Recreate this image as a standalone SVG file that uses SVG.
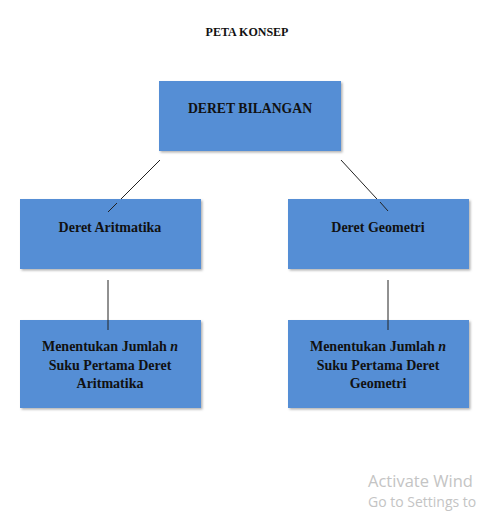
<svg xmlns="http://www.w3.org/2000/svg" width="485" height="513" viewBox="0 0 485 513">
<defs>
<filter id="sh" x="-5%" y="-5%" width="115%" height="115%">
<feDropShadow dx="1.5" dy="1.5" stdDeviation="0.8" flood-color="#000" flood-opacity="0.3"/>
</filter>
</defs>
<style>
.box{fill:#558ed5;filter:url(#sh)}
.t{font-family:"Liberation Serif","Times New Roman",serif;font-weight:bold;fill:#111;text-anchor:middle}
.c{stroke:#222;stroke-width:1;fill:none}
.w{font-family:"Open Sans","Noto Sans",sans-serif;fill:#c4c4c4}
</style>
<rect width="485" height="513" fill="#fff"/>
<text class="t" x="247" y="36" font-size="12">PETA KONSEP</text>
<g id="connectors">
<line class="c" x1="160" y1="160" x2="108" y2="212"/>
<line class="c" x1="341" y1="160" x2="388" y2="211"/>
<line class="c" x1="108" y1="280" x2="108" y2="330"/>
<line class="c" x1="388" y1="280" x2="388" y2="330"/>
</g>
<g id="deret-bilangan">
<rect class="box" x="159" y="81" width="182" height="70"/>
<text class="t" x="250" y="113" font-size="13.7">DERET BILANGAN</text>
</g>
<g id="deret-aritmatika">
<rect class="box" x="20" y="199" width="181" height="70"/>
<line class="c" x1="117" y1="203" x2="108" y2="212"/>
<text class="t" x="110" y="232" font-size="14">Deret Aritmatika</text>
</g>
<g id="deret-geometri">
<rect class="box" x="288" y="199" width="181" height="70"/>
<line class="c" x1="380" y1="202" x2="388" y2="211"/>
<text class="t" x="378" y="232" font-size="14">Deret Geometri</text>
</g>
<g id="jumlah-aritmatika">
<rect class="box" x="20" y="320" width="181" height="88"/>
<line class="c" x1="108" y1="320" x2="108" y2="330"/>
<text class="t" x="110" y="351" font-size="14">Menentukan Jumlah <tspan font-style="italic">n</tspan></text>
<text class="t" x="110" y="370" font-size="14">Suku Pertama Deret</text>
<text class="t" x="110" y="388" font-size="14">Aritmatika</text>
</g>
<g id="jumlah-geometri">
<rect class="box" x="288" y="320" width="181" height="88"/>
<line class="c" x1="388" y1="320" x2="388" y2="330"/>
<text class="t" x="378" y="351" font-size="14">Menentukan Jumlah <tspan font-style="italic">n</tspan></text>
<text class="t" x="378" y="370" font-size="14">Suku Pertama Deret</text>
<text class="t" x="378" y="388" font-size="14">Geometri</text>
</g>
<text class="w" x="368" y="487" font-size="16.5">Activate Wind</text>
<text class="w" x="368" y="507" font-size="14">Go to Settings to</text>
</svg>
